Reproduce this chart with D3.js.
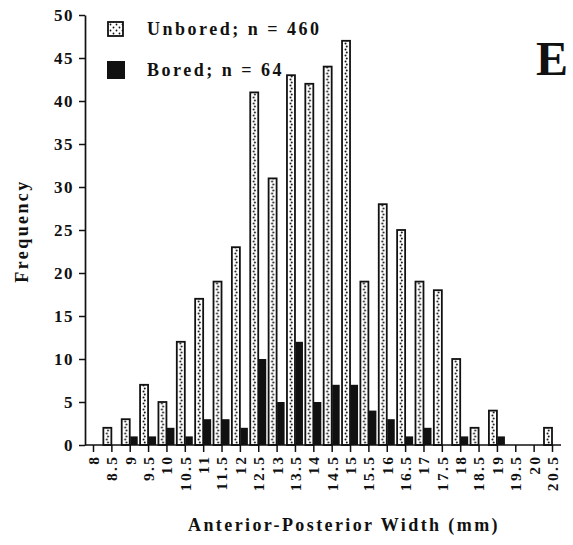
<!DOCTYPE html>
<html>
<head>
<meta charset="utf-8">
<script src="https://cdn.jsdelivr.net/npm/d3@7"></script>
<style>
  html, body { margin: 0; padding: 0; background: #fff; }
  svg { display: block; }
  text { font-family: "Liberation Serif", "Times New Roman", serif; font-weight: bold; fill: #111; }
</style>
</head>
<body>
<svg id="chart" width="573" height="545"></svg>
<script>
// Width classes (mm) and counts per class
const widthClasses = ["8","8.5","9","9.5","10","10.5","11","11.5","12","12.5","13","13.5","14",
  "14.5","15","15.5","16","16.5","17","17.5","18","18.5","19","19.5","20","20.5"];
const unboredCounts = [0,2,3,7,5,12,17,19,23,41,31,43,42,44,47,19,28,25,19,18,10,2,4,0,0,2];
const boredCounts   = [0,0,1,1,2,1,3,3,2,10,5,12,5,7,7,4,3,1,2,0,1,0,1,0,0,0];
const seriesNames = ["Unbored; n = 460", "Bored; n = 64"];
const yTicks = [0,5,10,15,20,25,30,35,40,45,50];

const svg = d3.select("#chart");
const axisX = 85, baseY = 445, topY = 15;
const track = "2.4px";

const x = d3.scalePoint().domain(widthClasses).range([93, 552]);
const y = d3.scaleLinear().domain([0, 50]).range([baseY, topY]);
// unbored bar sits left of each tick, bored bar right of it
const sub = d3.scaleBand().domain(["unbored", "bored"]).range([-8, 8]);

const defs = svg.append("defs");
const pat = defs.append("pattern")
  .attr("id", "dots").attr("patternUnits", "userSpaceOnUse")
  .attr("x", x(widthClasses[0]) - sub.bandwidth() / 2 - 2).attr("y", 0)
  .attr("width", x.step()).attr("height", 6);
pat.append("rect").attr("width", x.step()).attr("height", 6).attr("fill", "#fff");
pat.append("circle").attr("cx", 1.5).attr("cy", 1.5).attr("r", 1).attr("fill", "#111");
pat.append("circle").attr("cx", 2.7).attr("cy", 4.5).attr("r", 1).attr("fill", "#111");

const lpat = defs.append("pattern")
  .attr("id", "ldots").attr("patternUnits", "userSpaceOnUse")
  .attr("x", 109).attr("y", 23).attr("width", 6).attr("height", 6);
lpat.append("rect").attr("width", 6).attr("height", 6).attr("fill", "#fff");
lpat.append("circle").attr("cx", 1.5).attr("cy", 1.5).attr("r", 0.9).attr("fill", "#111");
lpat.append("circle").attr("cx", 4.5).attr("cy", 4.5).attr("r", 0.9).attr("fill", "#111");

// Unbored bars
svg.append("g").selectAll("rect")
  .data(widthClasses.map((c, i) => ({ c, v: unboredCounts[i] })).filter(d => d.v > 0))
  .join("rect")
  .attr("x", d => x(d.c) + sub("unbored"))
  .attr("y", d => y(d.v))
  .attr("width", sub.bandwidth())
  .attr("height", d => baseY - y(d.v))
  .attr("fill", "url(#dots)")
  .attr("stroke", "#111").attr("stroke-width", 1.8);

// Bored bars
svg.append("g").selectAll("rect")
  .data(widthClasses.map((c, i) => ({ c, v: boredCounts[i] })).filter(d => d.v > 0))
  .join("rect")
  .attr("x", d => x(d.c) + sub("bored") + 0.5)
  .attr("y", d => y(d.v))
  .attr("width", sub.bandwidth() - 0.5)
  .attr("height", d => baseY - y(d.v))
  .attr("fill", "#111");

// Y axis
const gy = svg.append("g").attr("transform", `translate(${axisX},0)`)
  .call(d3.axisLeft(y).tickValues(yTicks).tickSize(6).tickSizeOuter(0).tickPadding(5));
gy.select(".domain").attr("stroke", "#111").attr("stroke-width", 1.7);
gy.selectAll(".tick line").attr("stroke", "#111").attr("stroke-width", 1.5);
gy.selectAll(".tick text").style("font-size", "17px").style("letter-spacing", "1.5px")
  .style("font-family", "'Liberation Serif', serif").style("font-weight", "bold").attr("fill", "#111");

// X axis
const gx = svg.append("g").attr("transform", `translate(0,${baseY})`)
  .call(d3.axisBottom(x).tickSize(7).tickSizeOuter(0));
gx.select(".domain").remove();
gx.append("line").attr("x1", axisX).attr("x2", 561).attr("y1", 0).attr("y2", 0)
  .attr("stroke", "#111").attr("stroke-width", 1.7);
gx.selectAll(".tick line").attr("stroke", "#111").attr("stroke-width", 1.5);
gx.selectAll(".tick text")
  .attr("transform", "rotate(-90)")
  .attr("x", -9.5).attr("y", 0).attr("dy", "0.35em")
  .attr("text-anchor", "end")
  .style("font-size", "15.5px").style("letter-spacing", track)
  .style("font-family", "'Liberation Serif', serif").style("font-weight", "bold").attr("fill", "#111");

// Axis titles
svg.append("text").attr("x", 344).attr("y", 531).attr("text-anchor", "middle")
  .style("font-size", "18px").style("letter-spacing", "2.4px").text("Anterior-Posterior Width (mm)");
svg.append("text").attr("transform", "translate(28,231) rotate(-90)").attr("text-anchor", "middle")
  .style("font-size", "18px").style("letter-spacing", "2.4px").text("Frequency");

// Legend
svg.append("rect").attr("x", 108).attr("y", 22).attr("width", 15).attr("height", 14)
  .attr("fill", "url(#ldots)").attr("stroke", "#111").attr("stroke-width", 1.8);
svg.append("rect").attr("x", 107).attr("y", 61).attr("width", 18).attr("height", 18).attr("fill", "#111");
svg.append("text").attr("x", 147).attr("y", 35).style("font-size", "18px")
  .style("letter-spacing", "2.5px").text(seriesNames[0]);
svg.append("text").attr("x", 147).attr("y", 76).style("font-size", "18px")
  .style("letter-spacing", "2.5px").text(seriesNames[1]);

// Panel letter
svg.append("text").attr("x", 568).attr("y", 75).attr("text-anchor", "end")
  .style("font-size", "48px").text("E");
</script>
</body>
</html>
